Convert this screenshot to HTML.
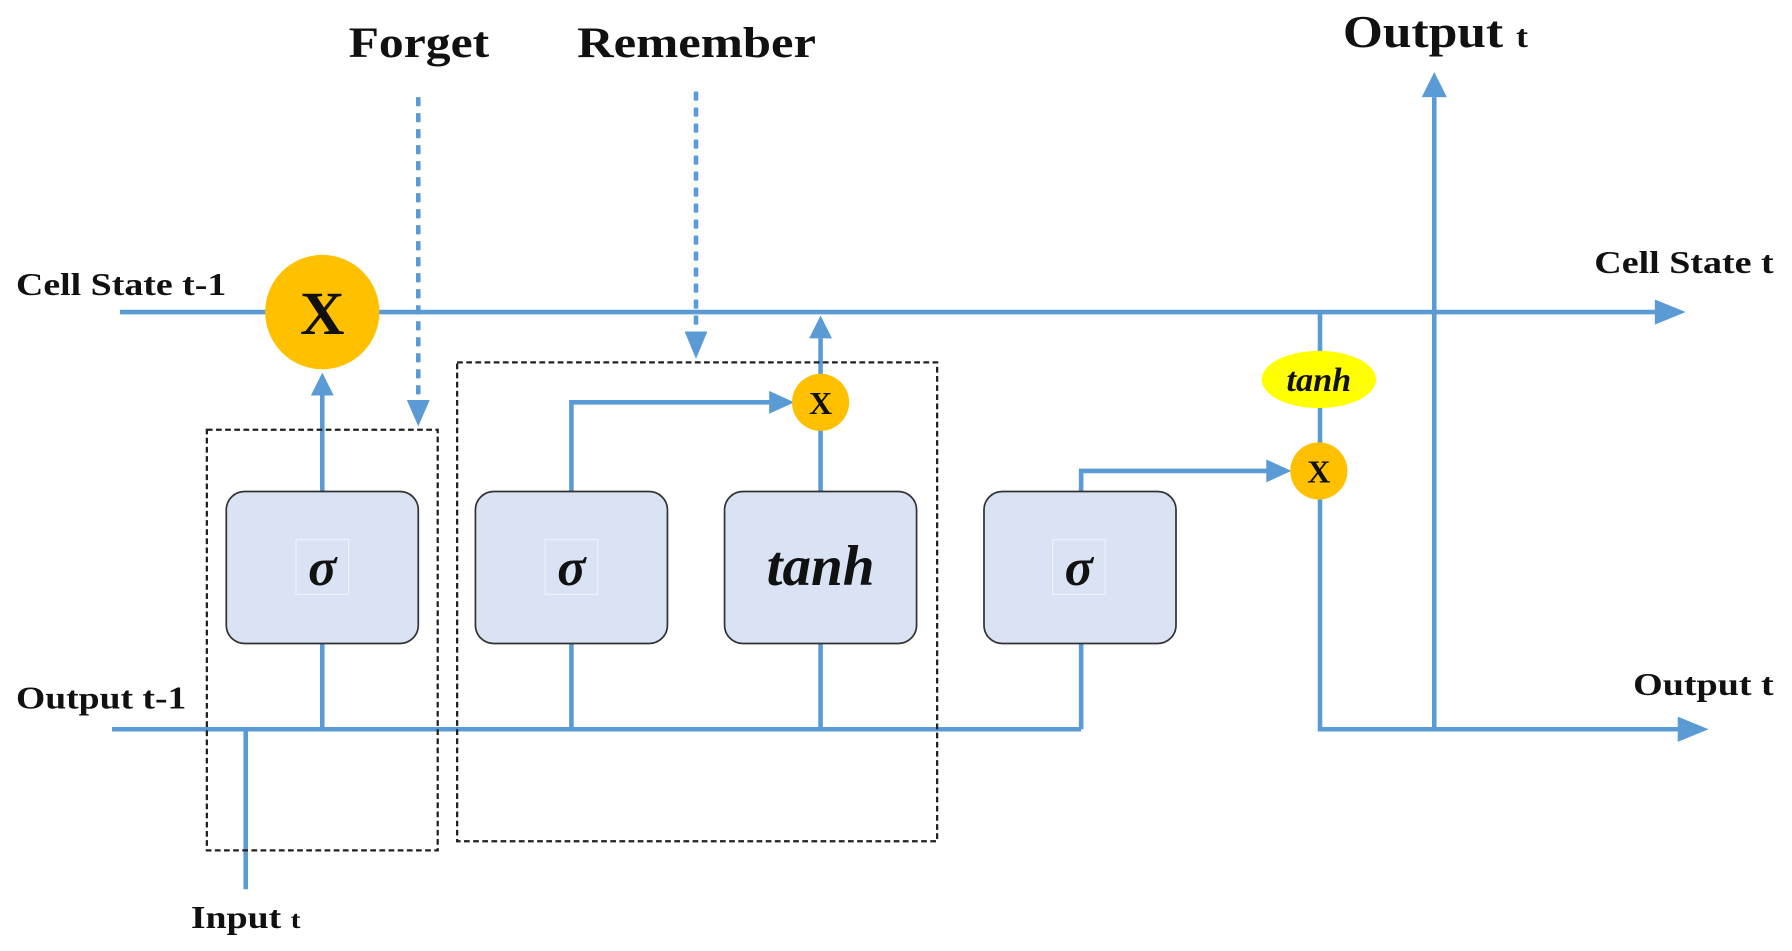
<!DOCTYPE html>
<html><head><style>html,body{margin:0;padding:0;background:#fff;overflow:hidden}svg{display:block}</style></head><body>
<svg width="1792" height="951" viewBox="0 0 1568 832" preserveAspectRatio="none" xmlns="http://www.w3.org/2000/svg">
<g fill="none" stroke="#5B9BD5" stroke-width="4">
<line x1="105" y1="273" x2="1450" y2="273"/>
<line x1="98" y1="638" x2="946" y2="638"/>
<line x1="215" y1="638" x2="215" y2="778"/>
<line x1="282" y1="563" x2="282" y2="638"/>
<line x1="500" y1="563" x2="500" y2="638"/>
<line x1="718" y1="563" x2="718" y2="638"/>
<line x1="946" y1="563" x2="946" y2="638"/>
<line x1="282" y1="430" x2="282" y2="345"/>
<polyline points="500,430 500,352 675,352"/>
<line x1="718" y1="430" x2="718" y2="296"/>
<polyline points="946,430 946,412 1110,412"/>
<polyline points="1155,273 1155,638 1470,638"/>
<line x1="1255" y1="638" x2="1255" y2="85"/>
<line x1="366" y1="85" x2="366" y2="352" stroke-dasharray="8,6"/>
<line x1="609" y1="80" x2="609" y2="292" stroke-dasharray="8,6"/>
</g>
<g fill="#5B9BD5">
<path d="M1448,262L1475,273L1448,284z"/>
<path d="M1468,627L1495,638L1468,649z"/>
<path d="M1244,85L1255,63L1266,85z"/>
<path d="M272,346L282,326L292,346z"/>
<path d="M356,350L366,373L376,350z"/>
<path d="M599,290L609,314L619,290z"/>
<path d="M708,296L718,276L728,296z"/>
<path d="M673,342L695,352L673,362z"/>
<path d="M1108,402L1130,412L1108,422z"/>
</g>
<g fill="none" stroke="#222" stroke-width="2" stroke-dasharray="5,3">
<rect x="181" y="376" width="202" height="368"/>
<rect x="400" y="317" width="420" height="419"/>
</g>
<g fill="#DAE3F3" stroke="#333" stroke-width="1.5">
<rect x="198" y="430" width="168" height="133" rx="16"/>
<rect x="416" y="430" width="168" height="133" rx="16"/>
<rect x="634" y="430" width="168" height="133" rx="16"/>
<rect x="861" y="430" width="168" height="133" rx="16"/>
</g>
<g fill="none" stroke="#eef2fa" stroke-width="1">
<rect x="259" y="472" width="46" height="48"/>
<rect x="477" y="472" width="46" height="48"/>
<rect x="921" y="472" width="46" height="48"/>
</g>
<g font-family="Liberation Serif, serif" font-weight="bold" font-style="italic" text-anchor="middle" fill="#111">
<text x="282" y="512" font-size="46">σ</text>
<text x="500" y="512" font-size="46">σ</text>
<text x="944" y="512" font-size="46">σ</text>
<text x="718" y="512" font-size="50">tanh</text>
</g>
<circle cx="282" cy="273" r="50" fill="#FFC000"/>
<circle cx="718" cy="352" r="25" fill="#FFC000"/>
<circle cx="1154" cy="412" r="25" fill="#FFC000"/>
<ellipse cx="1154" cy="332" rx="50" ry="25" fill="#FFFF00"/>
<g font-family="Liberation Serif, serif" font-weight="bold" fill="#111" lengthAdjust="spacingAndGlyphs">
<text x="282" y="292" font-size="54" text-anchor="middle">X</text>
<text x="718" y="362" font-size="28" text-anchor="middle">X</text>
<text x="1154" y="422" font-size="28" text-anchor="middle">X</text>
<text x="1154" y="342" font-size="30" font-style="italic" text-anchor="middle">tanh</text>
<text x="305" y="50" font-size="38" textLength="123" lengthAdjust="spacingAndGlyphs">Forget</text>
<text x="505" y="50" font-size="38" textLength="209" lengthAdjust="spacingAndGlyphs">Remember</text>
<text x="1175" y="41" font-size="40" textLength="162" lengthAdjust="spacingAndGlyphs">Output <tspan font-size="28">t</tspan></text>
<text x="14" y="258" font-size="28" textLength="184" lengthAdjust="spacingAndGlyphs">Cell State t-1</text>
<text x="1395" y="239" font-size="28" textLength="157" lengthAdjust="spacingAndGlyphs">Cell State t</text>
<text x="14" y="620" font-size="28" textLength="149" lengthAdjust="spacingAndGlyphs">Output t-1</text>
<text x="1429" y="608" font-size="28" textLength="123" lengthAdjust="spacingAndGlyphs">Output t</text>
<text x="167" y="812" font-size="28" textLength="96" lengthAdjust="spacingAndGlyphs">Input <tspan font-size="22">t</tspan></text>
</g>
</svg>
</body></html>
